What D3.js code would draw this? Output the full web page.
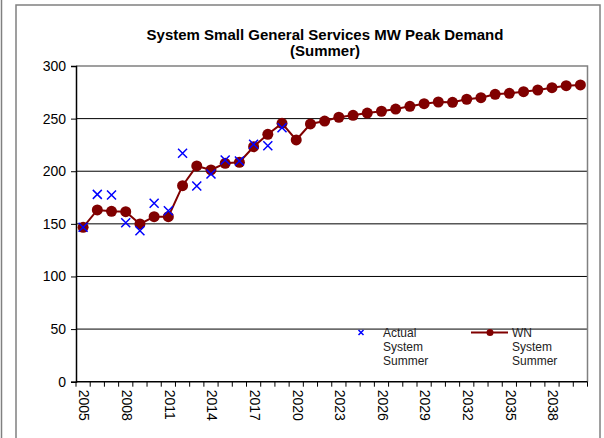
<!DOCTYPE html>
<html>
<head>
<meta charset="utf-8">
<script src="https://cdn.jsdelivr.net/npm/d3@7"></script>
<style>
	body { margin: 0; background: #fff; }
	text { font-family: "Liberation Sans", Arial, sans-serif; }
</style>
</head>
<body>
<div id="content"></div>
<script>
// Years on the category axis
var years = [2005, 2006, 2007, 2008, 2009, 2010, 2011, 2012, 2013, 2014, 2015, 2016,
	2017, 2018, 2019, 2020, 2021, 2022, 2023, 2024, 2025, 2026, 2027, 2028,
	2029, 2030, 2031, 2032, 2033, 2034, 2035, 2036, 2037, 2038, 2039, 2040];

// Actual System Summer (2005 - 2019)
var actualValues = [146.7, 178, 177.4, 151.1, 143.5, 169.5, 162.5, 217, 186, 197.4,
	210.7, 209.7, 225.6, 224.3, 241.4];

// WN System Summer (2005 - 2040)
var wnValues = [146.7, 163.2, 161.9, 161.6, 149.9, 156.8, 156.8, 186.3, 205, 201.2,
	207.5, 208.5, 223.3, 235.1, 245.5, 229.7, 244.9, 247.7, 251.3, 253.1,
	255.3, 257, 259.1, 261.7, 264.2, 265.8, 265.5, 268.4, 269.9, 273.1,
	274, 275.6, 277.2, 279.4, 281.3, 282];

var yTicks = [0, 50, 100, 150, 200, 250, 300];
var xLabelYears = [2005, 2008, 2011, 2014, 2017, 2020, 2023, 2026, 2029, 2032, 2035, 2038];

var titleLines = ["System Small General Services MW Peak Demand", "(Summer)"];
var legendItems = [
	{ name: ["Actual", "System", "Summer"], type: "x" },
	{ name: ["WN", "System", "Summer"], type: "line" }
];

function main() {
	var svg = d3.select("#content")
		.append("svg")
		.attr("width", 604)
		.attr("height", 438);

	var plot = { left: 76, right: 587.5, top: 66, bottom: 381.7 };

	// outer frame lines
	svg.append("line")
		.attr("x1", 1.5).attr("x2", 1.5).attr("y1", 0).attr("y2", 438)
		.attr("stroke", "#808080").attr("stroke-width", 1.5);
	svg.append("rect")
		.attr("x", 16).attr("y", 5)
		.attr("width", 584).attr("height", 440)
		.attr("fill", "white")
		.attr("stroke", "#808080").attr("stroke-width", 1.5);

	var x = d3.scaleBand()
		.domain(years)
		.range([plot.left, plot.right])
		.padding(0);

	var y = d3.scaleLinear()
		.domain([0, 300])
		.range([plot.bottom, plot.top]);

	// title
	svg.append("g").selectAll("text")
		.data(titleLines)
		.enter().append("text")
		.attr("x", 325)
		.attr("y", function (d, i) { return 40 + i * 16; })
		.attr("text-anchor", "middle")
		.attr("font-size", "15px")
		.attr("font-weight", "bold")
		.text(function (d) { return d; });

	// gridlines
	svg.append("g").selectAll("line")
		.data(yTicks.filter(function (d) { return d > 0 && d < 300; }))
		.enter().append("line")
		.attr("x1", plot.left).attr("x2", plot.right)
		.attr("y1", function (d) { return y(d); })
		.attr("y2", function (d) { return y(d); })
		.attr("stroke", "#000").attr("stroke-width", 1);

	// plot border top / right
	svg.append("path")
		.attr("d", "M" + plot.left + "," + y(300) + "H" + plot.right + "V" + plot.bottom)
		.attr("fill", "none")
		.attr("stroke", "#808080").attr("stroke-width", 1.5);

	// y axis
	var yAxis = svg.append("g")
		.attr("transform", "translate(" + plot.left + ",0)")
		.call(d3.axisLeft(y).tickValues(yTicks).tickSize(5).tickPadding(5));
	yAxis.select(".domain").attr("stroke", "#000").attr("stroke-width", 1.5);
	yAxis.selectAll(".tick text").attr("font-size", "14px").attr("font-family", "Liberation Sans, Arial, sans-serif");

	// x axis: ticks between categories
	var xAxis = svg.append("g")
		.attr("transform", "translate(0," + plot.bottom + ")");
	xAxis.append("line")
		.attr("x1", plot.left).attr("x2", plot.right)
		.attr("stroke", "#000").attr("stroke-width", 1.5);
	xAxis.selectAll(".xtick")
		.data(years.concat([null]))
		.enter().append("line")
		.attr("class", "xtick")
		.attr("x1", function (d, i) { return i < years.length ? x(d) : plot.right; })
		.attr("x2", function (d, i) { return i < years.length ? x(d) : plot.right; })
		.attr("y1", 0).attr("y2", 5)
		.attr("stroke", "#000");
	xAxis.selectAll(".xlabel")
		.data(xLabelYears)
		.enter().append("text")
		.attr("class", "xlabel")
		.attr("transform", function (d) {
			return "translate(" + (x(d) + x.bandwidth() / 2) + ",8) rotate(90)";
		})
		.attr("dominant-baseline", "middle")
		.attr("font-size", "14px")
		.text(function (d) { return d; });

	var cx = function (i) { return x(years[i]) + x.bandwidth() / 2; };

	// WN line + markers
	var line = d3.line()
		.x(function (d, i) { return cx(i); })
		.y(function (d) { return y(d); });
	svg.append("path")
		.datum(wnValues)
		.attr("d", line)
		.attr("fill", "none")
		.attr("stroke", "#800000")
		.attr("stroke-width", 2);
	svg.append("g").selectAll("circle")
		.data(wnValues)
		.enter().append("circle")
		.attr("cx", function (d, i) { return cx(i); })
		.attr("cy", function (d) { return y(d); })
		.attr("r", 5.5)
		.attr("fill", "#800000");

	// Actual X markers
	var xs = 4.5;
	svg.append("g").selectAll("path")
		.data(actualValues)
		.enter().append("path")
		.attr("d", function (d, i) {
			var px = cx(i), py = y(d);
			return "M" + (px - xs) + "," + (py - xs) + "L" + (px + xs) + "," + (py + xs) +
				"M" + (px - xs) + "," + (py + xs) + "L" + (px + xs) + "," + (py - xs);
		})
		.attr("stroke", "#0000ff")
		.attr("stroke-width", 1.5);

	// legend
	var legend = svg.append("g");
	legendItems.forEach(function (item, k) {
		var g = legend.append("g")
			.attr("transform", "translate(" + (k === 0 ? 361 : 490) + ",332.5)");
		if (item.type === "x") {
			var s = 2.5;
			g.append("path")
				.attr("d", "M" + (-s) + "," + (-s) + "L" + s + "," + s + "M" + (-s) + "," + s + "L" + s + "," + (-s))
				.attr("stroke", "#0000ff").attr("stroke-width", 1.5);
		} else {
			g.append("line")
				.attr("x1", -19).attr("x2", 18)
				.attr("stroke", "#800000").attr("stroke-width", 2);
			g.append("circle").attr("r", 3.5).attr("fill", "#800000");
		}
		g.selectAll("text")
			.data(item.name)
			.enter().append("text")
			.attr("x", 22)
			.attr("y", function (d, i) { return 4 + i * 14; })
			.attr("font-size", "12px")
			.attr("fill", "#222")
			.text(function (d) { return d; });
	});
}

(() => {
	main();
})()
</script>
</body>
</html>
